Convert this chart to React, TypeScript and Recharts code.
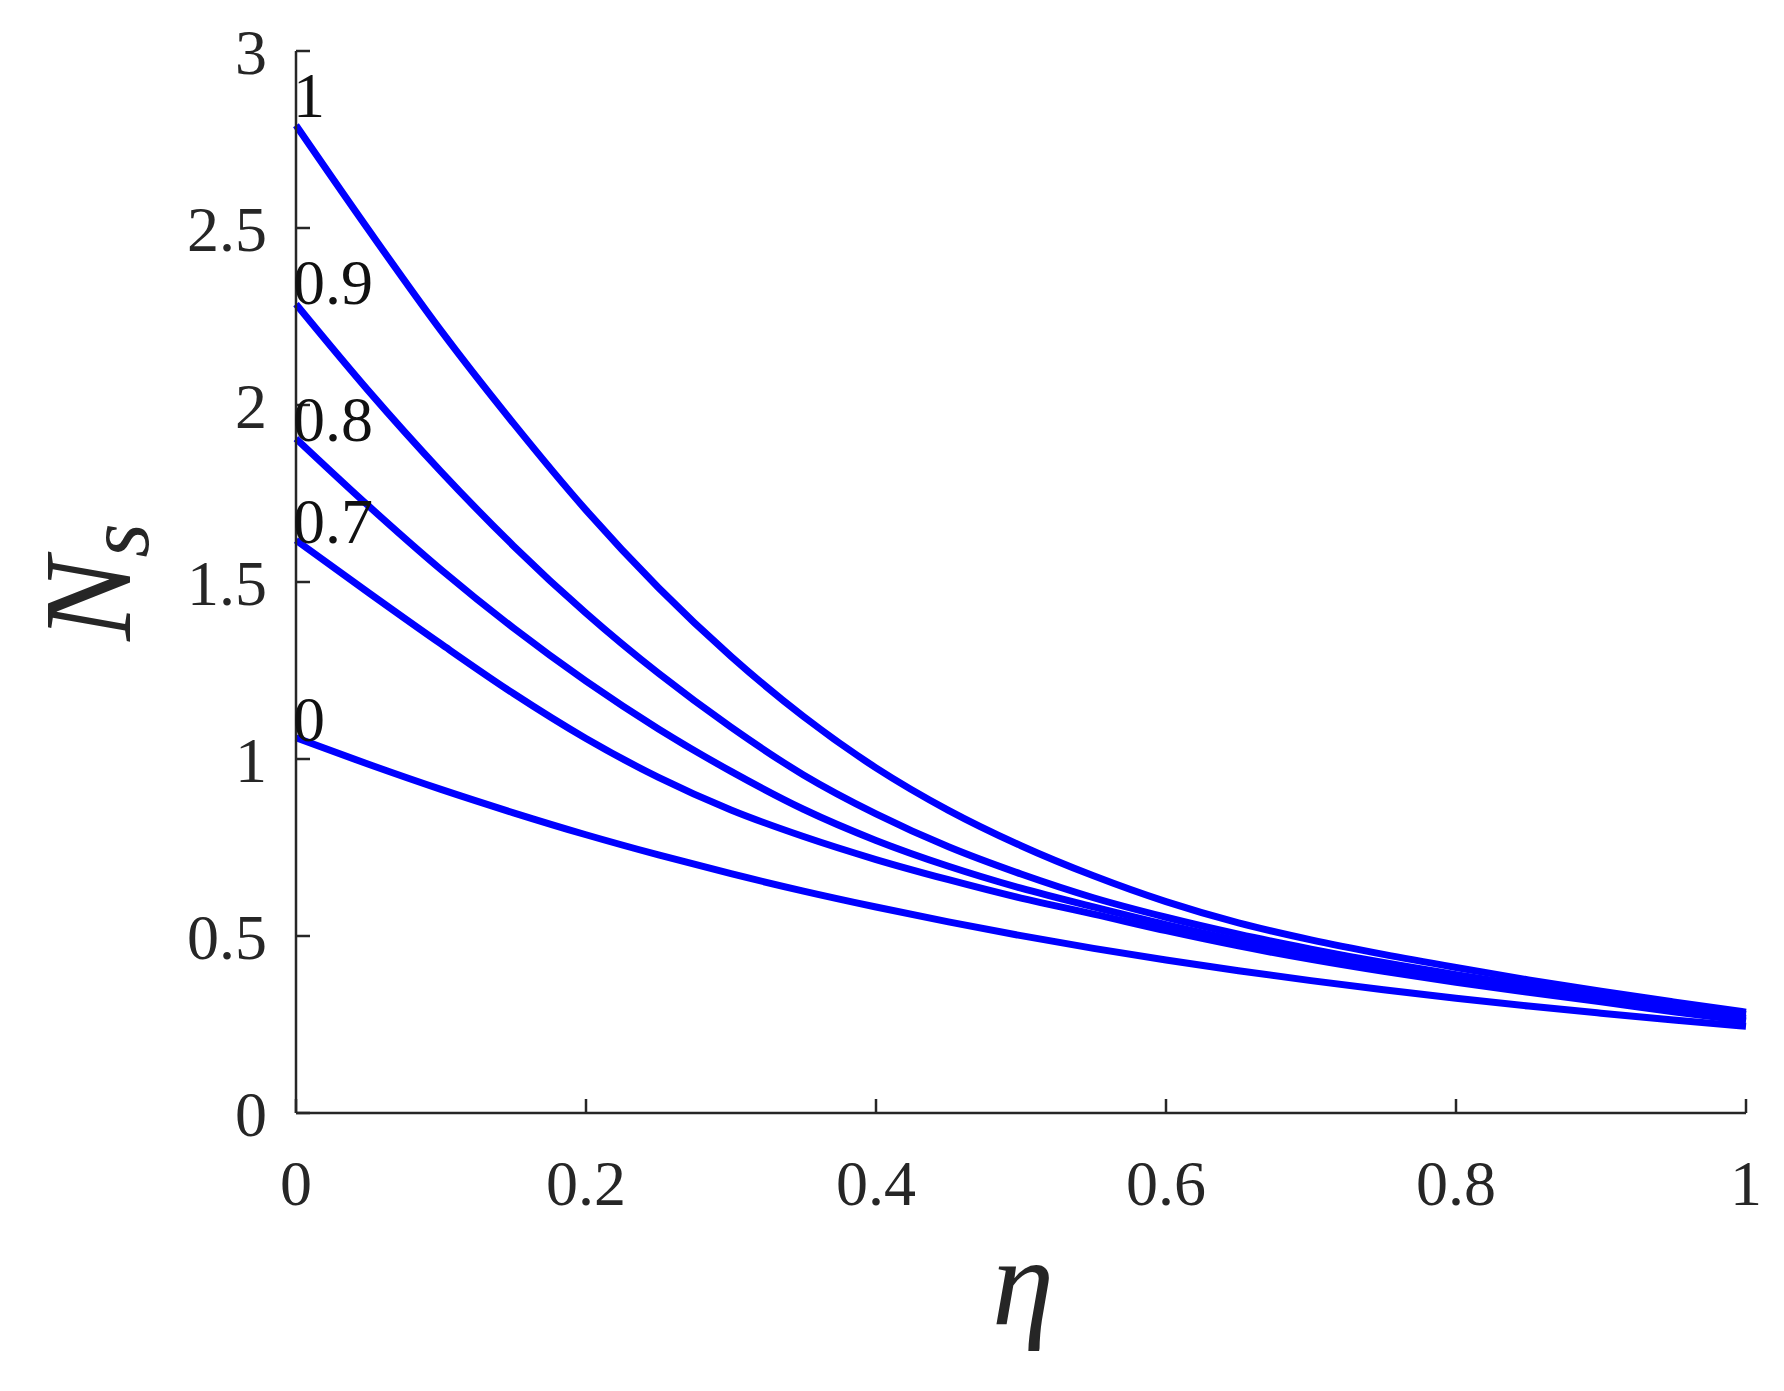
import { Label, Line, LineChart, XAxis, YAxis } from 'recharts';

const ETA = [
  0, 0.05, 0.1, 0.15, 0.2, 0.25, 0.3, 0.35, 0.4, 0.45, 0.5,
  0.55, 0.6, 0.65, 0.7, 0.75, 0.8, 0.85, 0.9, 0.95, 1
];

// N_s for each parameter value (curve labels 0, 0.7, 0.8, 0.9, 1)
const NS_0 = [
  1.06, 0.985, 0.914, 0.848, 0.786, 0.729, 0.676, 0.627, 0.582, 0.54, 0.501,
  0.465, 0.432, 0.402, 0.374, 0.348, 0.324, 0.302, 0.282, 0.263, 0.245
];
const NS_07 = [
  1.618, 1.47, 1.325, 1.185, 1.058, 0.948, 0.856, 0.781, 0.716, 0.659, 0.607,
  0.562, 0.515, 0.472, 0.434, 0.4, 0.369, 0.341, 0.314, 0.286, 0.26
];
const NS_08 = [
  1.905, 1.715, 1.535, 1.37, 1.22, 1.085, 0.965, 0.858, 0.77, 0.697, 0.635,
  0.582, 0.532, 0.487, 0.447, 0.41, 0.377, 0.347, 0.319, 0.293, 0.268
];
const NS_09 = [
  2.285, 2.04, 1.812, 1.602, 1.412, 1.242, 1.09, 0.955, 0.845, 0.752, 0.675,
  0.608, 0.553, 0.505, 0.463, 0.425, 0.391, 0.36, 0.332, 0.305, 0.278
];
const NS_1 = [
  2.79, 2.495, 2.21, 1.948, 1.703, 1.484, 1.29, 1.12, 0.975, 0.855, 0.755,
  0.67, 0.597, 0.537, 0.489, 0.448, 0.411, 0.376, 0.344, 0.314, 0.285
];

const CURVE_NAMES = ['0', '0.7', '0.8', '0.9', '1'];
const CURVE_VALUES = [NS_0, NS_07, NS_08, NS_09, NS_1];

const X_TICKS = [0, 0.2, 0.4, 0.6, 0.8, 1];
const Y_TICKS = [0, 0.5, 1, 1.5, 2, 2.5, 3];

const rows = ETA.map((eta, i) => {
  const row: Record<string, number> = { eta };
  CURVE_VALUES.forEach((vals, k) => {
    row['c' + k] = vals[i];
  });
  return row;
});

const FONT = '"Liberation Serif", "Times New Roman", Times, serif';
const INK = '#262626';
const BLUE = '#0000ff';

// small vertical nudge of the in-plot curve labels (the "1" sits above its curve)
const LABEL_DY = [3, 3, 2, 0, -8];

function curveLabel(name: string, dy: number) {
  return (props: any) => {
    if (props.index !== 0) return null;
    const x = props.x ?? props.viewBox?.x;
    const y = props.y ?? props.viewBox?.y;
    if (x == null || y == null) return null;
    return (
      <text x={x - 3} y={y + dy} fontFamily={FONT} fontSize={64} fill="#111">
        {name}
      </text>
    );
  };
}

function XTitle(props: any) {
  const vb = props.viewBox ?? { x: 288, y: 1105, width: 1450, height: 60 };
  return (
    <text
      x={vb.x + vb.width / 2 + 2}
      y={vb.y + 211}
      textAnchor="middle"
      fontFamily={FONT}
      fontStyle="italic"
      fontSize={125}
      fill={INK}
    >
      η
    </text>
  );
}

function YTitle(props: any) {
  const vb = props.viewBox ?? { x: 188, y: 43, width: 100, height: 1062 };
  const cx = vb.x - 66;
  const cy = vb.y + vb.height / 2;
  return (
    <text
      x={cx}
      y={cy}
      transform={`rotate(-90, ${cx}, ${cy})`}
      textAnchor="middle"
      fontFamily={FONT}
      fontStyle="italic"
      fontSize={125}
      fill={INK}
    >
      N
      <tspan dy={18} fontSize={88}>
        s
      </tspan>
    </text>
  );
}

export default function App() {
  return (
    <div style={{ width: 1776, height: 1383, background: '#fff' }}>
      <LineChart
        width={1776}
        height={1383}
        data={rows}
        margin={{ top: 43, right: 38, bottom: 218, left: 188 }}
      >
        <XAxis
          dataKey="eta"
          type="number"
          domain={[0, 1]}
          ticks={X_TICKS}
          height={60}
          stroke={INK}
          axisLine={{ stroke: INK, strokeWidth: 2.5 }}
          tickLine={{ stroke: INK, strokeWidth: 2.5 }}
          tickSize={-14}
          tickMargin={61}
          tick={{ fontFamily: FONT, fontSize: 64, fill: INK }}
          interval={0}
        >
          <Label content={XTitle} />
        </XAxis>
        <YAxis
          type="number"
          domain={[0, 3]}
          ticks={Y_TICKS}
          width={100}
          stroke={INK}
          axisLine={{ stroke: INK, strokeWidth: 2.5 }}
          tickLine={{ stroke: INK, strokeWidth: 2.5 }}
          tickSize={-14}
          tickMargin={43}
          tick={{ fontFamily: FONT, fontSize: 64, fill: INK }}
          interval={0}
        >
          <Label content={YTitle} />
        </YAxis>
        {CURVE_NAMES.map((name, k) => (
          <Line
            key={name}
            dataKey={'c' + k}
            type="monotone"
            stroke={BLUE}
            strokeWidth={7}
            dot={false}
            activeDot={false}
            isAnimationActive={false}
            label={curveLabel(name, LABEL_DY[k])}
          />
        ))}
      </LineChart>
    </div>
  );
}
